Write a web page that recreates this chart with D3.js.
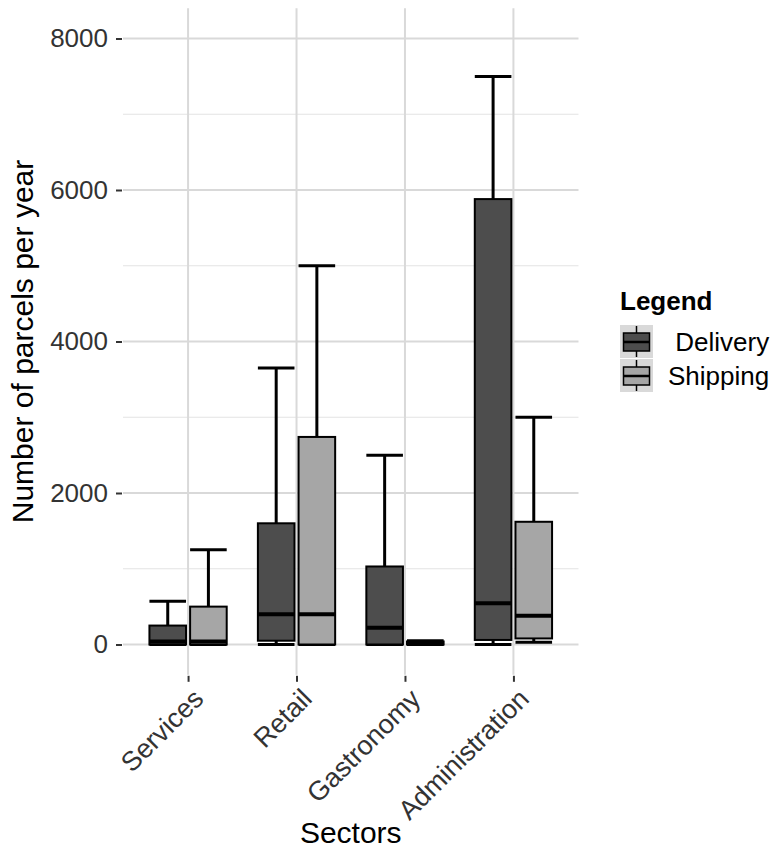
<!DOCTYPE html>
<html>
<head>
<meta charset="utf-8">
<script src="https://cdn.jsdelivr.net/npm/d3@7"></script>
<style>
  html, body { margin: 0; padding: 0; background: #fff; }
  svg { display: block; font-family: "Liberation Sans", Arial, sans-serif; }
</style>
</head>
<body>
<svg id="chart" width="776" height="852"></svg>
<script>
// Sectors on the x axis
const sectors = ["Services", "Retail", "Gastronomy", "Administration"];
// Box series (legend entries)
const seriesNames = [" Delivery", "Shipping"];
const seriesFill = ["#4d4d4d", "#a6a6a6"];

// Five-number summaries per sector, one array per statistic
const deliveryMin    = [0,   0,    0,    0];
const deliveryQ1     = [0,   50,   0,    60];
const deliveryMedian = [40,  400,  220,  545];
const deliveryQ3     = [250, 1600, 1030, 5880];
const deliveryMax    = [570, 3650, 2500, 7500];

const shippingMin    = [0,    0,    0,  30];
const shippingQ1     = [0,    0,    0,  80];
const shippingMedian = [40,   400,  10, 380];
const shippingQ3     = [500,  2740, 40, 1620];
const shippingMax    = [1250, 5000, 50, 3000];

const yTicks = [0, 2000, 4000, 6000, 8000];
const yMinor = [1000, 3000, 5000, 7000];

const series = [
  { name: seriesNames[0], fill: seriesFill[0], min: deliveryMin, q1: deliveryQ1, med: deliveryMedian, q3: deliveryQ3, max: deliveryMax },
  { name: seriesNames[1], fill: seriesFill[1], min: shippingMin, q1: shippingQ1, med: shippingMedian, q3: shippingQ3, max: shippingMax }
];

const svg = d3.select("#chart");
const panel = { left: 123, right: 578.5, top: 8.2, bottom: 674.8 };

const x = d3.scalePoint().domain(sectors).range([panel.left, panel.right]).padding(0.6);
const step = x.step();
const dodge = step * 0.75;               // total dodge width per sector
const slot = dodge / series.length;      // width reserved per box
const boxW = slot * 0.9;                 // box width after padding

const y = d3.scaleLinear().domain([-400, 8400]).range([panel.bottom, panel.top]);

// Grid
const grid = svg.append("g");
grid.selectAll("line.minor").data(yMinor).join("line")
  .attr("x1", panel.left).attr("x2", panel.right)
  .attr("y1", d => y(d)).attr("y2", d => y(d))
  .attr("stroke", "#e3e3e3").attr("stroke-width", 1);
grid.selectAll("line.major").data(yTicks).join("line")
  .attr("x1", panel.left).attr("x2", panel.right)
  .attr("y1", d => y(d)).attr("y2", d => y(d))
  .attr("stroke", "#d9d9d9").attr("stroke-width", 2);
grid.selectAll("line.vmajor").data(sectors).join("line")
  .attr("x1", d => x(d)).attr("x2", d => x(d))
  .attr("y1", panel.top).attr("y2", panel.bottom)
  .attr("stroke", "#d9d9d9").attr("stroke-width", 2);

// Axes
const yAxis = d3.axisLeft(y).tickValues(yTicks).tickSize(6).tickPadding(8).tickFormat(d3.format("d"));
const gy = svg.append("g").attr("transform", `translate(${panel.left - 1},0)`).call(yAxis);
gy.select(".domain").remove();
gy.selectAll(".tick line").attr("stroke", "#333").attr("stroke-width", 2);
gy.selectAll(".tick text").attr("fill", "#333").attr("font-size", 26)
  .attr("font-family", "Liberation Sans, Arial, sans-serif");

const xAxis = d3.axisBottom(x).tickSize(6).tickPadding(4);
const gx = svg.append("g").attr("transform", `translate(0,${panel.bottom + 1})`).call(xAxis);
gx.select(".domain").remove();
gx.selectAll(".tick line").attr("stroke", "#333").attr("stroke-width", 2);
gx.selectAll(".tick text")
  .attr("fill", "#333").attr("font-size", 27)
  .attr("font-family", "Liberation Sans, Arial, sans-serif")
  .attr("text-anchor", "end")
  .attr("dy", null).attr("y", null)
  .attr("transform", "translate(3,11) rotate(-45)")
  .attr("dominant-baseline", "hanging");

// Boxes
series.forEach((s, si) => {
  const off = -dodge / 2 + slot * (si + 0.5);
  const g = svg.append("g");
  const rows = sectors.map((c, i) => ({ c, min: s.min[i], q1: s.q1[i], med: s.med[i], q3: s.q3[i], max: s.max[i] }));
  const cx = d => x(d.c) + off;

  // whiskers
  g.selectAll("line.wu").data(rows).join("line")
    .attr("x1", cx).attr("x2", cx)
    .attr("y1", d => y(d.q3)).attr("y2", d => y(d.max))
    .attr("stroke", "#000").attr("stroke-width", 3);
  g.selectAll("line.wl").data(rows).join("line")
    .attr("x1", cx).attr("x2", cx)
    .attr("y1", d => y(d.q1)).attr("y2", d => y(d.min))
    .attr("stroke", "#000").attr("stroke-width", 3);
  // caps
  g.selectAll("line.cu").data(rows).join("line")
    .attr("x1", d => cx(d) - boxW / 2).attr("x2", d => cx(d) + boxW / 2)
    .attr("y1", d => y(d.max)).attr("y2", d => y(d.max))
    .attr("stroke", "#000").attr("stroke-width", 3);
  g.selectAll("line.cl").data(rows).join("line")
    .attr("x1", d => cx(d) - boxW / 2).attr("x2", d => cx(d) + boxW / 2)
    .attr("y1", d => y(d.min)).attr("y2", d => y(d.min))
    .attr("stroke", "#000").attr("stroke-width", 3);
  // box
  g.selectAll("rect").data(rows).join("rect")
    .attr("x", d => cx(d) - boxW / 2).attr("width", boxW)
    .attr("y", d => y(d.q3)).attr("height", d => Math.max(0, y(d.q1) - y(d.q3)))
    .attr("fill", s.fill).attr("stroke", "#000").attr("stroke-width", 2);
  // median
  g.selectAll("line.md").data(rows).join("line")
    .attr("x1", d => cx(d) - boxW / 2).attr("x2", d => cx(d) + boxW / 2)
    .attr("y1", d => y(d.med)).attr("y2", d => y(d.med))
    .attr("stroke", "#000").attr("stroke-width", 4);
});

// Axis titles
svg.append("text")
  .attr("x", (panel.left + panel.right) / 2).attr("y", 843)
  .attr("text-anchor", "middle").attr("font-size", 30).attr("fill", "#000")
  .text("Sectors");
svg.append("text")
  .attr("transform", `translate(33,${(panel.top + panel.bottom) / 2}) rotate(-90)`)
  .attr("text-anchor", "middle").attr("font-size", 30).attr("fill", "#000")
  .text("Number of parcels per year");

// Legend
const lg = svg.append("g").attr("transform", "translate(620,0)");
lg.append("text").attr("x", 0).attr("y", 310).attr("font-size", 26).attr("font-weight", "bold")
  .attr("fill", "#000").text("Legend");
series.forEach((s, i) => {
  const ky = 325 + i * 34;
  const k = lg.append("g").attr("transform", `translate(0,${ky})`);
  k.append("rect").attr("x", 0).attr("y", 0).attr("width", 33).attr("height", 33).attr("fill", "#d9d9d9");
  k.append("line").attr("x1", 16.5).attr("x2", 16.5).attr("y1", 1).attr("y2", 32)
    .attr("stroke", "#000").attr("stroke-width", 1.5);
  k.append("rect").attr("x", 3.5).attr("y", 8).attr("width", 26).attr("height", 18)
    .attr("fill", s.fill).attr("stroke", "#000").attr("stroke-width", 1.5);
  k.append("line").attr("x1", 3.5).attr("x2", 29.5).attr("y1", 17).attr("y2", 17)
    .attr("stroke", "#000").attr("stroke-width", 2.5);
  k.append("text").attr("x", 48).attr("y", 26).attr("font-size", 26).attr("fill", "#000")
    .attr("xml:space", "preserve").style("white-space", "pre").text(s.name);
});
</script>
</body>
</html>
